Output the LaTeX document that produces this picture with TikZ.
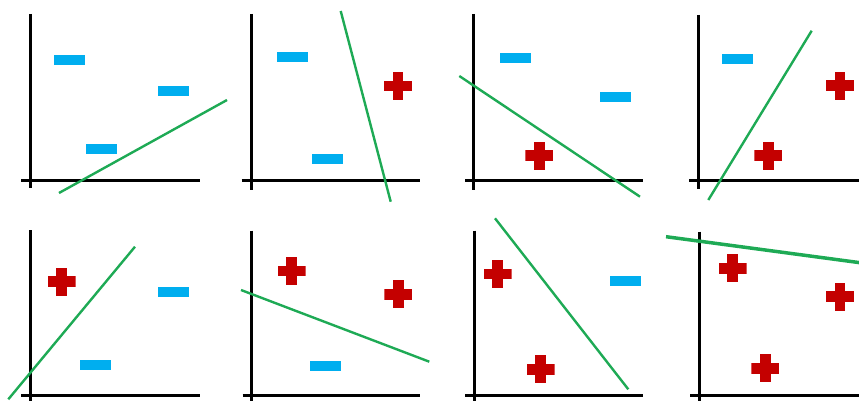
\documentclass[tikz,border=0pt]{standalone}
\begin{document}
\begin{tikzpicture}[x=1pt,y=-1pt,
  axisline/.style={line width=3pt,black},
  sepline/.style={line width=2.4pt,color=sepgreen},
  negpt/.style={rectangle,fill=negblue,minimum width=31pt,minimum height=10pt,inner sep=0pt},
  pospt/.style={rectangle,minimum width=28pt,minimum height=28pt,inner sep=0pt,
    path picture={
      \fill[posred] ([xshift=-14pt,yshift=-5.25pt]path picture bounding box.center) rectangle ++(28pt,10.5pt);
      \fill[posred] ([xshift=-5.25pt,yshift=-14pt]path picture bounding box.center) rectangle ++(10.5pt,28pt);
    }}]
\definecolor{negblue}{RGB}{0,174,239}
\definecolor{posred}{RGB}{196,0,0}
\definecolor{sepgreen}{RGB}{30,170,85}
\useasboundingbox (0,0) rectangle (859,401);
% panel 1
\draw[axisline] (30.5,14) -- (30.5,188);
\draw[axisline] (21,180) -- (200,180);
\node[negpt] (a1) at (69,60.5) {};
\node[negpt] (a2) at (173,91) {};
\node[negpt] (a3) at (101,149) {};
\draw[sepline] (59,193) -- (227,100);
% panel 2
\draw[axisline] (251.7,14) -- (251.7,190);
\draw[axisline] (241.7,180) -- (420,180);
\node[negpt] (b1) at (292.5,57.5) {};
\node[negpt] (b2) at (327,159) {};
\node[pospt] (b3) at (398,86) {};
\draw[sepline] (340.7,11) -- (390.7,201.7);
% panel 3
\draw[axisline] (473.3,14) -- (473.3,190);
\draw[axisline] (465,180.3) -- (643,180.3);
\node[negpt] (c1) at (515,58) {};
\node[negpt] (c2) at (615,97.5) {};
\node[pospt] (c3) at (539.3,155.7) {};
\draw[sepline] (459.3,76) -- (640,196.7);
% panel 4
\draw[axisline] (698.3,15) -- (698.3,189);
\draw[axisline] (689,180.3) -- (859,180.3);
\node[negpt] (d1) at (737,59) {};
\node[pospt] (d2) at (840,85.7) {};
\node[pospt] (d3) at (768.3,155.7) {};
\draw[sepline] (708.3,200) -- (811.7,30.7);
% panel 5
\draw[axisline] (30.7,230) -- (30.7,401);
\draw[axisline] (21,395) -- (200,395);
\node[pospt] (e1) at (61.7,281.7) {};
\node[negpt] (e2) at (173,291.7) {};
\node[negpt] (e3) at (95.7,365) {};
\draw[sepline] (8.3,399.3) -- (135,246.7);
% panel 6
\draw[axisline] (251.7,230.7) -- (251.7,401);
\draw[axisline] (242.7,395.7) -- (420,395.7);
\node[pospt] (f1) at (291.7,271) {};
\node[pospt] (f2) at (398.3,294.3) {};
\node[negpt] (f3) at (325.7,365.5) {};
\draw[sepline] (241,290) -- (429.3,361.7);
% panel 7
\draw[axisline] (474,230.7) -- (474,401);
\draw[axisline] (465,395.7) -- (643,395.7);
\node[pospt] (g1) at (497.7,274) {};
\node[pospt] (g2) at (540.7,369.3) {};
\node[negpt] (g3) at (625.3,281.3) {};
\draw[sepline] (495,218.3) -- (628.3,389.3);
% panel 8
\draw[axisline] (699,231.7) -- (699,401);
\draw[axisline] (690,395.7) -- (859,395.7);
\node[pospt] (h1) at (732.7,268.3) {};
\node[pospt] (h2) at (840,296.7) {};
\node[pospt] (h3) at (765.3,368.3) {};
\draw[sepline,line width=3.5pt] (666,236.7) -- (860,262.7);
\end{tikzpicture}
\end{document}
